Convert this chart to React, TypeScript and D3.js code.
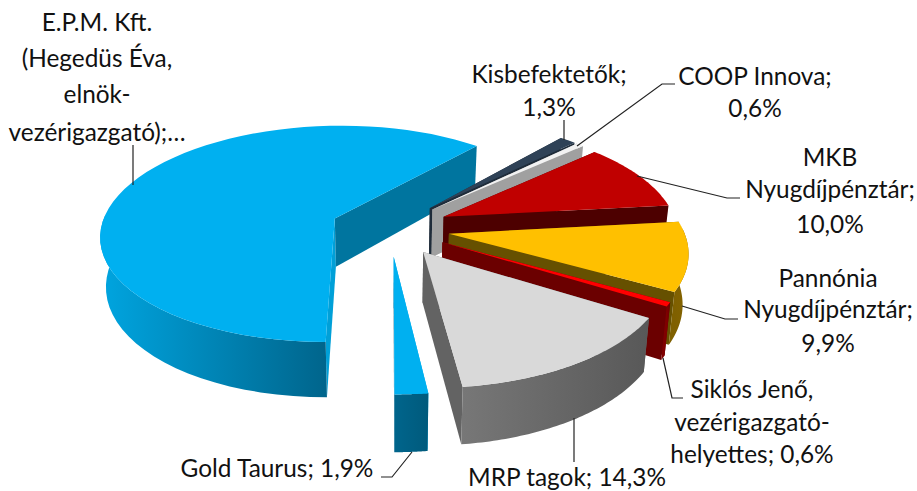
import React from "react";
import * as d3 from "d3";

const categories = ["E.P.M. Kft.", "Kisbefektetők", "COOP Innova", "MKB Nyugdíjpénztár", "Pannónia Nyugdíjpénztár", "Siklós Jenő", "MRP tagok", "Gold Taurus"];
const shares = [61.3, 1.3, 0.6, 10.0, 9.9, 0.6, 14.3, 1.9];
const explosions = [0.255, 0.255, 0.255, 0.255, 0.255, 0.255, 0.255, 0.255];
const topColors = ["#00b0f0", "#2f4257", "#f2f2f2", "#c00000", "#ffc000", "#ff0000", "#d9d9d9", "#00b0f0"];
const endFaceColors = ["#00759f", "#1f2c3a", "#a0a0a0", "#4d0000", "#665000", "#6b0000", "#636363", "#005a7c"];
const startFaceColors = ["#00a0d8", "#1f2c3a", "#a0a0a0", "#4d0000", "#665000", "#6b0000", "#6e6e6e", "#00b0f0"];
const rimStops = [["#00a5e0", "#00658c"], ["#1f2c3a", "#1f2c3a"], ["#a0a0a0", "#a0a0a0"], ["#600000", "#4d0000"], ["#7f6000", "#856400"], ["#800000", "#6b0000"], ["#777777", "#585858"], ["#00658c", "#005a7c"]];
const labelLines = [
  { lines: ["E.P.M. Kft.", "(Hegedüs Éva,", "elnök-", "vezérigazgató);…"], x: 97, ys: [31, 67, 103, 141] },
  { lines: ["Kisbefektetők;", "1,3%"], x: 549, ys: [83, 116] },
  { lines: ["COOP Innova;", "0,6%"], x: 755, ys: [85, 117] },
  { lines: ["MKB", "Nyugdíjpénztár;", "10,0%"], x: 830, ys: [166, 198, 233] },
  { lines: ["Pannónia", "Nyugdíjpénztár;", "9,9%"], x: 828, ys: [287, 318, 352] },
  { lines: ["Siklós Jenő,", "vezérigazgató-", "helyettes; 0,6%"], x: 752, ys: [398, 431, 463] },
  { lines: ["MRP tagok; 14,3%"], x: 567, ys: [485.5] },
  { lines: ["Gold Taurus; 1,9%"], x: 277, ys: [477] },
];
const leaderPaths = [
  [[133, 145], [133, 185]],
  [[564, 120], [564, 140]],
  [[675, 84], [662, 84], [577, 146]],
  [[740, 198], [727, 198], [637, 176]],
  [[738, 319], [725, 319], [682, 306]],
  [[683, 398], [672, 398], [663, 358]],
  [[574, 418], [574, 462]],
  [[381, 477], [392, 477], [412, 452]],
];

const CX = 390, CY = 228, R = 234, TILT = 0.4645, K = 0.144, FIRST = Math.PI, BOTTOM_SHRINK = 0.98;

type P = [number, number];

function project(wx: number, wy: number): P {
  const s = 1 / (1 - K * wy);
  return [CX + R * wx * s, CY + R * TILT * wy * s];
}
function depthAt(wy: number) {
  return 49 + 7 * wy;
}

export default function App() {
  const arcs = d3.pie<number>().sort(null).startAngle(FIRST).endAngle(FIRST + 2 * Math.PI)(shares);
  const line = d3.line();

  const slices = shares.map((_, i) => {
    const a = arcs[i];
    const mid = (a.startAngle + a.endAngle) / 2;
    const ox = Math.sin(mid) * explosions[i];
    const oy = -Math.cos(mid) * explosions[i];
    const pt = (t: number, r = 1): [number, number] => [ox + r * Math.sin(t), oy - r * Math.cos(t)];
    const apexW = pt(0, 0);
    const ts = d3.range(0, 61).map((j) => a.startAngle + (a.endAngle - a.startAngle) * j / 60);
    const edgeW = ts.map((t) => pt(t));
    const topPts = edgeW.map(([x, y]) => project(x, y));
    const apex = project(apexW[0], apexW[1]);
    const down = (w: [number, number]): P => {
      const p = project(w[0], w[1]);
      return [CX + (p[0] - CX) * BOTTOM_SHRINK, p[1] + depthAt(w[1])];
    };
    const apexB = down(apexW);
    const topPath = line([apex, ...topPts])! + "Z";
    const startFace = line([apex, topPts[0], down(edgeW[0]), apexB])! + "Z";
    const endFace = line([apex, topPts[60], down(edgeW[60]), apexB])! + "Z";
    // only the part of the rim turned towards the viewer
    const front = ts.map((t, j) => ({ t, j })).filter((d) => Math.cos(d.t) < 0.05).map((d) => d.j);
    const rim = front.length > 1
      ? line([...front.map((j) => topPts[j]), ...front.map((j) => down(edgeW[j])).reverse()])! + "Z"
      : "";
    const xs = front.map((j) => topPts[j][0]);
    return { i, topPath, startFace, endFace, rim, x0: d3.min(xs) ?? 0, x1: d3.max(xs) ?? 1 };
  });

  return (
    <svg width={917} height={491} style={{ position: "absolute", left: 0, top: 0, background: "#fff" }}>
      <defs>
        {slices.map((s) => (
          <linearGradient key={s.i} id={`rim${s.i}`} gradientUnits="userSpaceOnUse" x1={s.x0} x2={s.x1} y1={0} y2={0}>
            <stop offset="0" stopColor={rimStops[s.i][0]} />
            <stop offset="1" stopColor={rimStops[s.i][1]} />
          </linearGradient>
        ))}
      </defs>
      {slices.map((s) => (
        <g key={s.i}>
          <path d={s.startFace} fill={startFaceColors[s.i]} />
          <path d={s.endFace} fill={endFaceColors[s.i]} />
          <path d={s.rim} fill={`url(#rim${s.i})`} />
          <path d={s.topPath} fill={topColors[s.i]} />
        </g>
      ))}
      {leaderPaths.map((p, i) => (
        <path key={i} d={line(p as P[])!} fill="none" stroke="#222" strokeWidth={1.2} />
      ))}
      {labelLines.map((l, i) => (
        <text key={i} textAnchor="middle" fontFamily="Lato, sans-serif" fontSize={24.4} fill="#111">
          {l.lines.map((t, j) => (
            <tspan key={j} x={l.x} y={l.ys[j]}>{t}</tspan>
          ))}
        </text>
      ))}
      <title>{categories.join(", ")}</title>
    </svg>
  );
}
